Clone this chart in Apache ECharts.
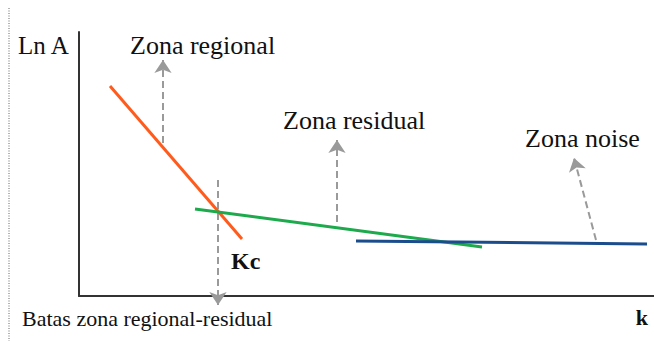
<!DOCTYPE html>
<html>
<head>
<meta charset="utf-8">
<script src="https://cdn.jsdelivr.net/npm/echarts@6/dist/echarts.min.js"></script>
<style>
html,body{margin:0;padding:0;background:#fff;}
#chart{width:654px;height:341px;}
</style>
</head>
<body>
<div id="chart"></div>
<script>
// Schematic values (k, Ln A) in arbitrary units
const regionalLine = [[31, 210], [163, 57]];
const residualLine = [[116, 87], [403, 49]];
const noiseLine = [[277, 55], [568, 52]];
// Annotation arrows: [start, end]
const arrowRegional = [[84, 153], [84, 236]];
const arrowKc = [[139, 116], [139, -9]];
const arrowResidual = [[258, 74], [258, 156]];
const arrowNoise = [[517, 56], [495, 138]];
const labels = ['Zona regional', 'Zona residual', 'Zona noise', 'Kc', 'Batas zona regional-residual'];
const axisNames = ['Ln A', 'k'];

const FONT = 'Liberation Serif';
const chart = echarts.init(document.getElementById('chart'), null, {renderer: 'svg'});

function txt(text, x, y, size, weight, align) {
  return {
    type: 'text', x: x, y: y, silent: true,
    style: {text: text, fontFamily: FONT, fontSize: size, fontWeight: weight || 'normal',
      fill: '#111', align: align || 'left', verticalAlign: 'middle'}
  };
}

chart.setOption({
  animation: false,
  backgroundColor: '#fff',
  textStyle: {fontFamily: FONT},
  grid: {left: 79, right: 0, top: 32, bottom: 45, containLabel: false},
  xAxis: {type: 'value', min: 0, max: 575,
    axisLine: {show: true, onZero: false, lineStyle: {color: '#333', width: 2}},
    axisTick: {show: false}, axisLabel: {show: false}, splitLine: {show: false}},
  yAxis: {type: 'value', min: 0, max: 264,
    axisLine: {show: true, onZero: false, lineStyle: {color: '#333', width: 2}},
    axisTick: {show: false}, axisLabel: {show: false}, splitLine: {show: false}},
  series: [
    {type: 'line', name: 'regional', data: regionalLine, symbol: 'none', silent: true,
      lineStyle: {color: '#FF5B1C', width: 3}},
    {type: 'line', name: 'residual', data: residualLine, symbol: 'none', silent: true,
      lineStyle: {color: '#1DAA4C', width: 3}},
    {type: 'line', name: 'noise', data: noiseLine, symbol: 'none', silent: true,
      lineStyle: {color: '#1B4C8C', width: 3}},
    {type: 'lines', name: 'arrows', coordinateSystem: 'cartesian2d', clip: false, silent: true,
      symbol: ['none', 'arrow'], symbolSize: 13,
      lineStyle: {color: '#9a9a9a', width: 2, type: [7, 4], opacity: 1},
      data: [arrowRegional, arrowKc, arrowResidual, arrowNoise].map(a => ({coords: a}))}
  ],
  graphic: [
    {type: 'line', silent: true, shape: {x1: 9, y1: 8, x2: 9, y2: 341},
      style: {stroke: '#666', lineWidth: 1, lineDash: [1, 1.5]}},
    txt(axisNames[0], 18, 45, 25),
    txt(labels[0], 130, 45, 26),
    txt(labels[1], 283, 120, 26),
    txt(labels[2], 525, 138, 26),
    txt(labels[3], 231, 261, 24, 'bold'),
    txt(labels[4], 22, 318, 22),
    txt(axisNames[1], 648, 317, 22, 'bold', 'right')
  ]
});
</script>
</body>
</html>
